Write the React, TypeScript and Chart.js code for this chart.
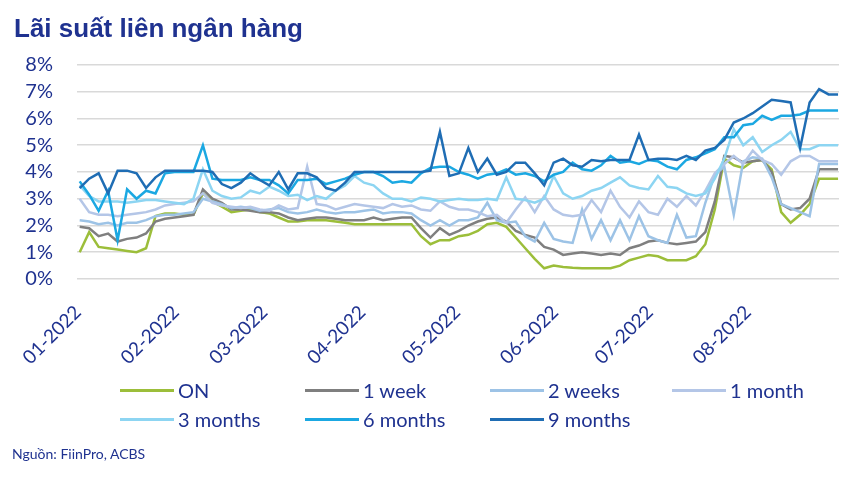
import React, { useEffect, useRef } from 'react';
import { Chart, registerables } from 'chart.js';

Chart.register(...registerables);

// day offset from 01-01-2022, sampled every 3 days
const days = [-2, 1, 4, 7, 10, 13, 16, 19, 22, 25, 28, 31, 34, 37, 40, 43, 46, 49, 52, 55, 58, 61, 64, 67, 70, 73, 76, 79, 82, 85, 88, 91, 94, 97, 100, 103, 106, 109, 112, 115, 118, 121, 124, 127, 130, 133, 136, 139, 142, 145, 148, 151, 154, 157, 160, 163, 166, 169, 172, 175, 178, 181, 184, 187, 190, 193, 196, 199, 202, 205, 208, 211, 214, 217, 220, 223, 226, 229, 232, 235, 238];

const monthTicks = [0, 31, 59, 90, 120, 151, 181, 212];
const monthLabels = ['01-2022', '02-2022', '03-2022', '04-2022', '05-2022', '06-2022', '07-2022', '08-2022'];
const yTicks = [0, 1, 2, 3, 4, 5, 6, 7, 8];

const seriesNames = ['ON', '1 week', '2 weeks', '1 month', '3 months', '6 months', '9 months'];
const seriesColors = ['#9CBE3A', '#7F7F7F', '#9DC3E6', '#B4C6E7', '#8DD5F2', '#1BA8E2', '#1F6DB4'];

const onRate = [1.0, 1.75, 1.2, 1.15, 1.1, 1.05, 1.0, 1.15, 2.35, 2.45,
  2.45, 2.4, 2.4, 3.2, 2.9, 2.7, 2.5, 2.55, 2.6, 2.5,
  2.45, 2.3, 2.15, 2.15, 2.2, 2.2, 2.2, 2.15, 2.1, 2.05,
  2.05, 2.05, 2.05, 2.05, 2.05, 2.05, 1.6, 1.3, 1.45, 1.45,
  1.6, 1.65, 1.8, 2.05, 2.1, 1.95, 1.55, 1.15, 0.75, 0.4,
  0.5, 0.45, 0.42, 0.4, 0.4, 0.4, 0.4, 0.5, 0.7, 0.8,
  0.9, 0.85, 0.7, 0.7, 0.7, 0.85, 1.3, 2.6, 4.5, 4.25,
  4.15, 4.4, 4.45, 4.1, 2.5, 2.1, 2.4, 2.8, 3.75, 3.75,
  3.75];

const week1 = [1.95, 1.9, 1.6, 1.7, 1.4, 1.5, 1.55, 1.7, 2.15, 2.25,
  2.3, 2.35, 2.4, 3.35, 3.0, 2.85, 2.6, 2.6, 2.55, 2.5,
  2.5, 2.45, 2.3, 2.2, 2.25, 2.3, 2.3, 2.25, 2.2, 2.2,
  2.2, 2.3, 2.2, 2.25, 2.3, 2.3, 1.9, 1.55, 1.9, 1.65,
  1.8, 2.0, 2.15, 2.25, 2.3, 2.15, 1.8, 1.65, 1.55, 1.2,
  1.1, 0.9, 0.95, 1.0, 0.95, 0.9, 0.95, 0.9, 1.15, 1.25,
  1.4, 1.45, 1.35, 1.3, 1.35, 1.4, 1.75, 2.9, 4.6, 4.55,
  4.35, 4.4, 4.45, 4.0, 2.8, 2.6, 2.65, 3.0, 4.1, 4.1,
  4.1];

const week2 = [2.2, 2.15, 2.05, 2.1, 2.0, 2.1, 2.1, 2.2, 2.35, 2.4,
  2.4, 2.45, 2.5, 3.0, 2.9, 2.8, 2.65, 2.7, 2.65, 2.55,
  2.6, 2.65, 2.5, 2.45, 2.5, 2.6, 2.5, 2.45, 2.5, 2.5,
  2.55, 2.6, 2.45, 2.5, 2.5, 2.45, 2.2, 2.0, 2.2, 2.0,
  2.2, 2.2, 2.3, 2.85, 2.2, 2.1, 2.15, 1.6, 1.4, 2.1,
  1.5, 1.4, 1.35, 2.6, 1.5, 2.2, 1.45, 2.2, 1.45, 2.35,
  1.6, 1.45, 1.35, 2.4, 1.55, 1.6, 2.85, 3.9, 4.2, 2.4,
  4.4, 4.55, 4.5, 3.8, 2.8, 2.65, 2.5, 2.35, 4.3, 4.3,
  4.3];

const month1 = [3.0, 2.5, 2.4, 2.4, 2.35, 2.4, 2.45, 2.5, 2.6, 2.75,
  2.8, 2.85, 2.9, 3.2, 2.85, 2.75, 2.7, 2.65, 2.7, 2.6,
  2.55, 2.75, 2.6, 2.65, 4.2, 2.8, 2.75, 2.6, 2.7, 2.8,
  2.75, 2.7, 2.65, 2.8, 2.7, 2.75, 2.6, 2.55, 2.9, 2.7,
  2.6, 2.6, 2.5, 2.35, 2.4, 2.1, 2.6, 3.05, 2.5, 3.1,
  2.6, 2.4, 2.35, 2.4, 2.95, 2.5, 3.3, 2.7, 2.3, 2.9,
  2.5, 2.4, 3.0, 2.7, 3.1, 2.75, 3.3, 3.95, 4.3, 4.6,
  4.3, 4.8, 4.45, 4.3, 3.9, 4.4, 4.6, 4.6, 4.4, 4.4,
  4.4];

const month3 = [3.5, 3.1, 2.9, 2.9, 2.9, 2.85, 2.9, 2.95, 2.95, 2.9,
  2.85, 2.8, 3.0, 4.1, 3.3, 3.1, 3.0, 3.05, 3.3, 3.2,
  3.45, 3.3, 3.1, 3.15, 2.95, 3.1, 3.0, 3.3, 3.5, 3.85,
  3.6, 3.5, 3.2, 3.0, 3.0, 2.9, 3.05, 3.0, 2.9, 2.95,
  3.0, 2.95, 2.95, 3.0, 2.95, 3.8, 3.0, 2.95, 2.85, 3.0,
  3.85, 3.2, 3.0, 3.1, 3.3, 3.4, 3.6, 3.8, 3.5, 3.4,
  3.35, 3.85, 3.45, 3.4, 3.2, 3.1, 3.2, 3.75, 4.5, 5.6,
  5.0, 5.3, 4.75, 5.0, 5.2, 5.5, 4.85, 4.85, 5.0, 5.0,
  5.0];

const month6 = [3.65, 3.15, 2.55, 3.3, 1.45, 3.35, 3.0, 3.3, 3.2, 3.95,
  4.0, 4.0, 4.0, 5.0, 3.75, 3.7, 3.7, 3.7, 3.8, 3.7,
  3.7, 3.5, 3.2, 3.7, 3.7, 3.75, 3.55, 3.65, 3.75, 3.9,
  4.0, 4.0, 3.85, 3.6, 3.65, 3.6, 3.95, 4.15, 4.2, 4.2,
  4.0, 3.9, 3.75, 3.9, 3.95, 4.1, 3.9, 3.95, 3.85, 3.65,
  3.9, 4.0, 4.35, 4.1, 4.05, 4.25, 4.6, 4.35, 4.4, 4.3,
  4.45, 4.4, 4.2, 4.1, 4.45, 4.55, 4.7, 4.85, 5.3, 5.3,
  5.75, 5.8, 6.1, 5.95, 6.1, 6.1, 6.15, 6.3, 6.3, 6.3,
  6.3];

const month9 = [3.4, 3.75, 3.95, 3.2, 4.05, 4.05, 3.95, 3.4, 3.8, 4.05,
  4.05, 4.05, 4.05, 4.05, 4.0, 3.55, 3.4, 3.6, 3.95, 3.7,
  3.5, 4.0, 3.35, 3.95, 3.95, 3.8, 3.4, 3.3, 3.6, 4.0,
  4.0, 4.0, 4.0, 4.0, 4.0, 4.0, 4.0, 4.05, 5.5, 3.85,
  3.95, 4.9, 4.0, 4.5, 3.9, 4.0, 4.35, 4.35, 3.95, 3.5,
  4.35, 4.5, 4.25, 4.2, 4.45, 4.4, 4.45, 4.45, 4.45, 5.4,
  4.45, 4.5, 4.5, 4.45, 4.6, 4.45, 4.8, 4.9, 5.2, 5.85,
  6.0, 6.2, 6.45, 6.7, 6.65, 6.6, 4.9, 6.6, 7.1, 6.9,
  6.9];

const seriesValues = [onRate, week1, week2, month1, month3, month6, month9];

const NAVY = '#1F3290';
const FONT = 'Lato, "Open Sans", sans-serif';

const legendLayout = [
  { x: 120, y: 390 }, { x: 305, y: 390 }, { x: 490, y: 390 }, { x: 672, y: 390 },
  { x: 120, y: 419 }, { x: 305, y: 419 }, { x: 490, y: 419 },
];

export default function App() {
  const ref = useRef<HTMLCanvasElement>(null);

  useEffect(() => {
    document.body.style.margin = '0';
    const chart = new Chart(ref.current as HTMLCanvasElement, {
      type: 'line',
      data: {
        datasets: seriesValues.map((vals, k) => ({
          label: seriesNames[k],
          data: vals.map((v, i) => ({ x: days[i], y: v })),
          borderColor: seriesColors[k],
          backgroundColor: seriesColors[k],
          borderWidth: 2.5,
          pointRadius: 0,
          tension: 0,
          order: seriesValues.length - k,
        })),
      },
      options: {
        responsive: false,
        animation: false,
        layout: { padding: { left: 0, right: 14, top: 65, bottom: 0 } },
        plugins: { legend: { display: false }, tooltip: { enabled: false }, title: { display: false } },
        scales: {
          x: {
            type: 'linear',
            min: -2.85,
            max: 238.3,
            grid: { display: false, drawTicks: false },
            border: { display: false },
            afterBuildTicks: (s: any) => { s.ticks = monthTicks.map((v) => ({ value: v })); },
            afterFit: (s: any) => { s.height = 198; },
            ticks: {
              autoSkip: false,
              minRotation: 45,
              maxRotation: 45,
              padding: 22,
              labelOffset: -8,
              color: NAVY,
              font: { family: FONT, size: 19 },
              callback: (_v: any, i: number) => monthLabels[i],
            },
          },
          y: {
            min: 0,
            max: 8,
            grid: { color: '#D9D9D9', lineWidth: 1.6, drawTicks: false },
            border: { display: false },
            afterBuildTicks: (s: any) => { s.ticks = yTicks.map((v) => ({ value: v })); },
            afterFit: (s: any) => { s.width = 77; },
            ticks: {
              autoSkip: false,
              padding: 24,
              color: NAVY,
              font: { family: FONT, size: 20 },
              callback: (v: any) => v + '%',
            },
          },
        },
      },
    } as any);
    return () => chart.destroy();
  }, []);

  return (
    <div style={{ position: 'fixed', left: 0, top: 0, width: 853, height: 477, background: '#fff', overflow: 'hidden' }}>
      <canvas ref={ref} width={853} height={477} style={{ position: 'absolute', left: 0, top: 0, width: 853, height: 477 }} />
      <div style={{ position: 'absolute', left: 14, top: 13, fontFamily: '"Liberation Sans", Arial, sans-serif', fontWeight: 'bold', fontSize: 26, color: NAVY, whiteSpace: 'nowrap' }}>
        Lãi suất liên ngân hàng
      </div>
      {seriesNames.map((name, k) => (
        <div key={name} style={{ position: 'absolute', left: legendLayout[k].x, top: legendLayout[k].y - 14, height: 28, display: 'flex', alignItems: 'center', whiteSpace: 'nowrap' }}>
          <div style={{ width: 54, height: 3, background: seriesColors[k], marginRight: 4 }} />
          <span style={{ fontFamily: FONT, fontSize: 20, color: NAVY }}>{name}</span>
        </div>
      ))}
      <div style={{ position: 'absolute', left: 12, top: 445, fontFamily: FONT, fontSize: 14, color: NAVY, whiteSpace: 'nowrap' }}>
        Nguồn: FiinPro, ACBS
      </div>
    </div>
  );
}
